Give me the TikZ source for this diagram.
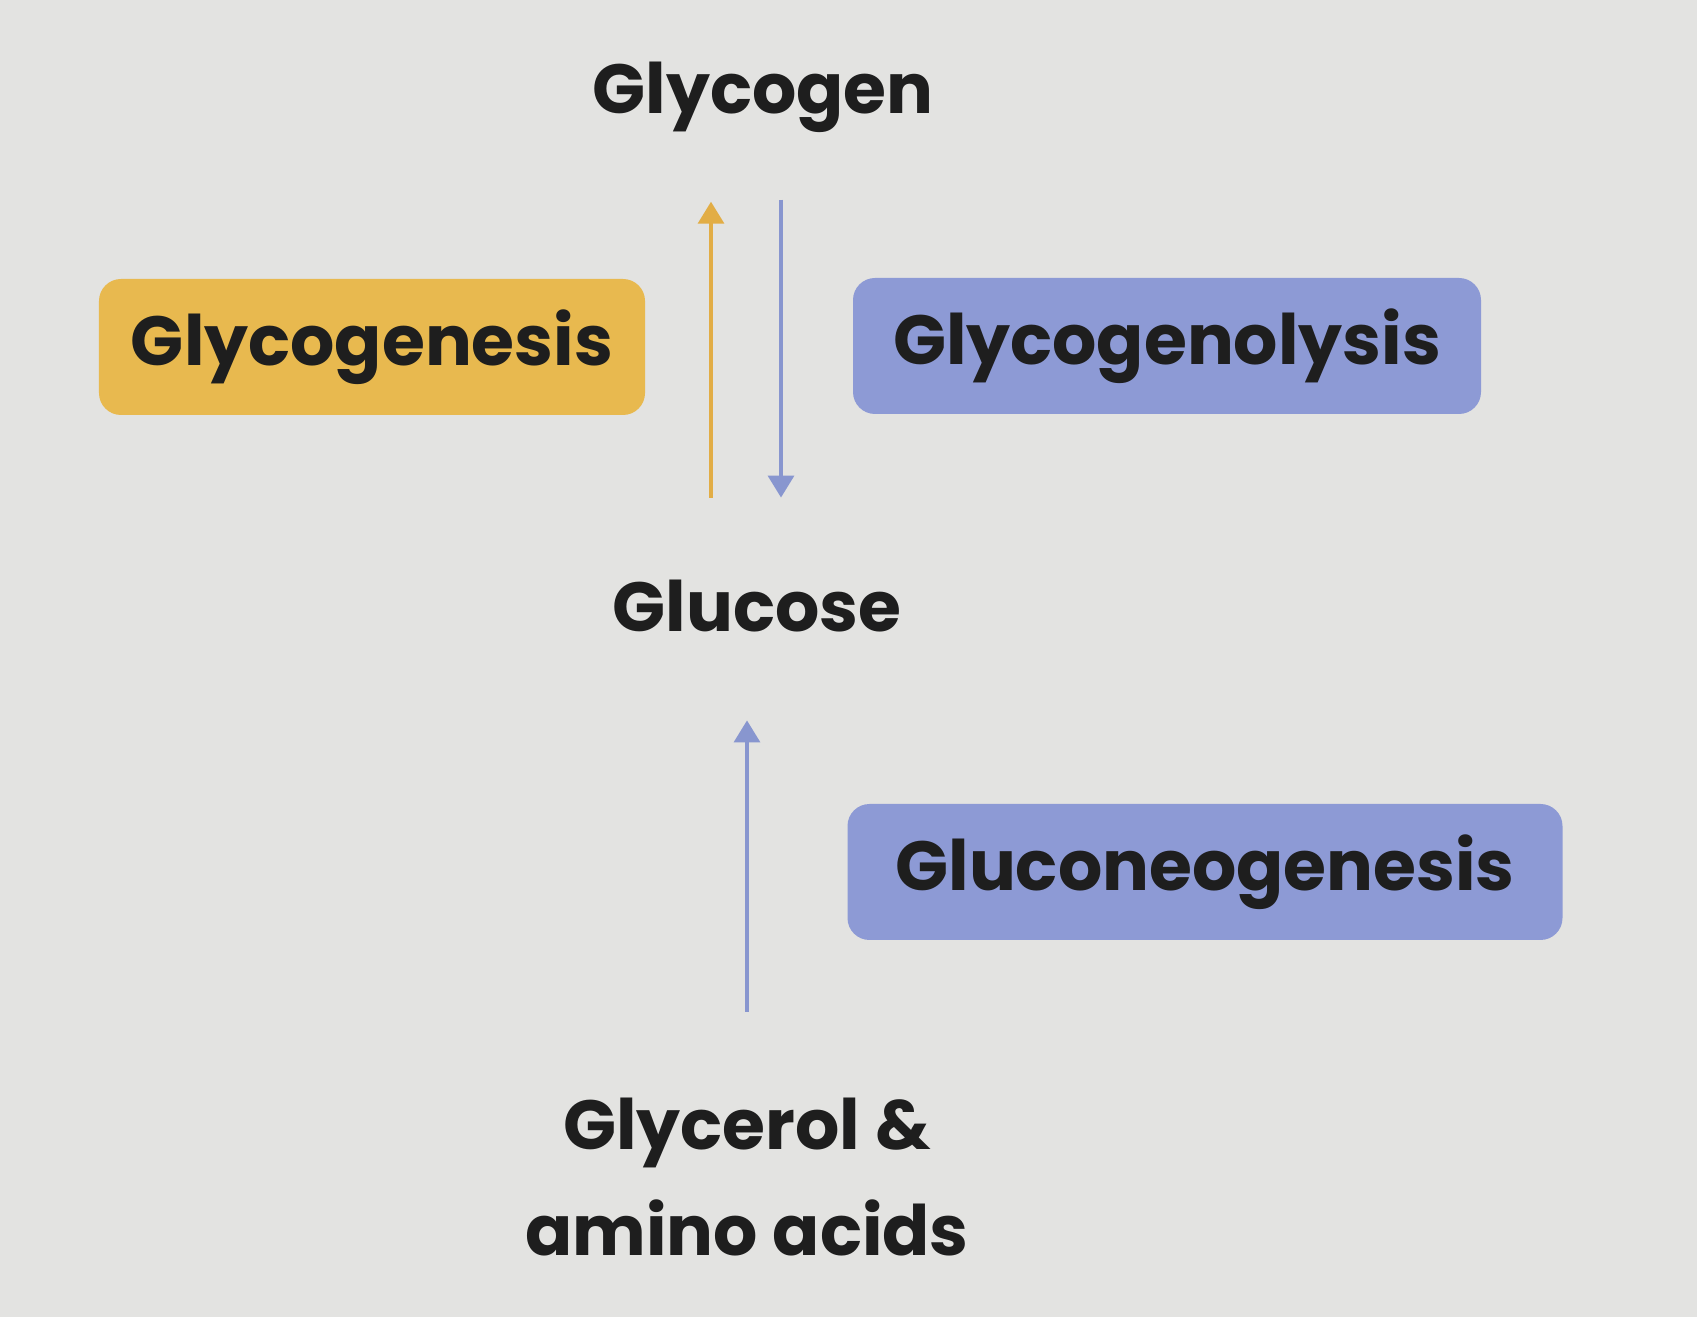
\documentclass[tikz,border=0pt]{standalone}
\usepackage{fontspec}
\setmainfont{Poppins}
\usepackage{tikz}
\usetikzlibrary{arrows.meta}
\definecolor{paper}{HTML}{E3E3E1}
\definecolor{goldbox}{HTML}{E8B94F}
\definecolor{bluebox}{HTML}{8D9AD5}
\definecolor{goldline}{HTML}{E2AD45}
\definecolor{blueline}{HTML}{8896CF}
\definecolor{ink}{HTML}{1E1E1E}

\begin{document}
\begin{tikzpicture}[
		label/.style={text=ink, font=\fontsize{19.8}{30}\selectfont\bfseries, align=center},
		tag/.style={label, rounded corners=2.2mm, inner xsep=3.2mm, minimum height=1.36cm},
		flow/.style={line width=1pt, -{Triangle[width=2.6mm,length=2.2mm]}}
	]
		%%%%% START %%%%%
		
		\fill[paper] (0, 0) rectangle (16.97, -13.17);
		
		\node[label] (glycogen) at (7.63, -0.97) {Glycogen};
		\node[label] (glucose) at (7.57, -6.06) {Glucose};
		\node[label] (glycerol) at (7.47, -11.77) {Glycerol \&\\amino acids};
		
		\node[tag, fill=goldbox, minimum width=5.38cm] (genesis) at (3.72, -3.47) {Glycogenesis};
		\node[tag, fill=bluebox, minimum width=6.28cm] (lysis) at (11.67, -3.46) {Glycogenolysis};
		\node[tag, fill=bluebox, minimum width=7.15cm] (neo) at (12.05, -8.72) {Gluconeogenesis};
		
		\draw[flow, goldline, shorten <=7mm, shorten >=5.7mm] (glucose.north -| 7.11, 0) -- (glycogen.south -| 7.11, 0);
		\draw[flow, blueline, shorten <=5.5mm, shorten >=7mm] (glycogen.south -| 7.81, 0) -- (glucose.north -| 7.81, 0);
		\draw[flow, blueline, shorten <=7.4mm, shorten >=7.6mm] (glycerol.north -| 7.47, 0) -- (glucose.south -| 7.47, 0);
		
		%%%%% END %%%%%
	\end{tikzpicture}
\end{document}
